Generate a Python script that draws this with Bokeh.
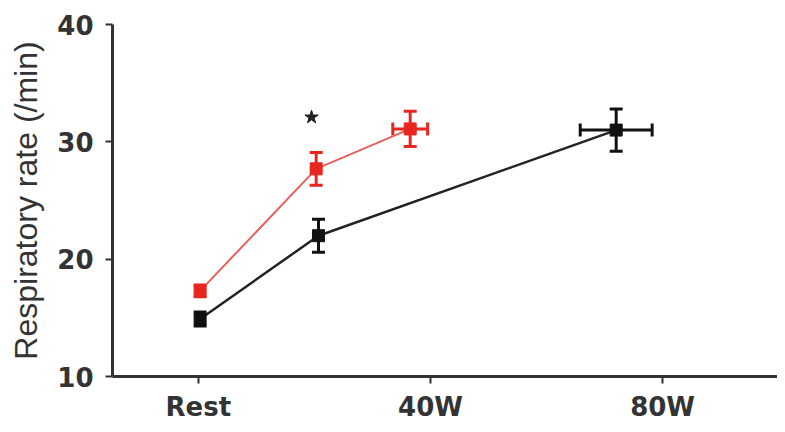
from bokeh.plotting import figure
from bokeh.models import ColumnDataSource, Whisker, FixedTicker, Range1d, TeeHead
from bokeh.embed import file_html
from bokeh.resources import INLINE

# data
tick_watts = [0, 40, 80]
tick_labels = ["Rest", "40W", "80W"]
y_ticks = [10, 20, 30, 40]

red_watts = [0.3, 20.3, 36.5]
red_rate = [17.3, 27.7, 31.1]
red_sem = [0.5, 1.4, 1.5]
red_watts_sem = [0.0, 0.0, 3.0]

black_watts = [0.3, 20.7, 72.0]
black_rate = [14.9, 22.0, 31.0]
black_sem = [0.6, 1.4, 1.8]
black_watts_sem = [0.0, 0.0, 6.2]

star_watts = [19.5]
star_rate = [32.1]

RED = "#e8261f"
RED_LINE = "#e8615c"
BLACK = "#111111"

p = figure(width=777, height=424, output_backend="svg", toolbar_location=None,
           x_range=Range1d(-14.8, 99.8), y_range=Range1d(10, 40),
           min_border_left=112, min_border_right=0, min_border_top=24, min_border_bottom=45)
p.outline_line_color = None
p.grid.visible = False
p.background_fill_color = "white"
p.border_fill_color = "white"

def make_src(x, y, s, xs):
    return ColumnDataSource(dict(
        x=x, y=y,
        lo=[a - b for a, b in zip(y, s)], hi=[a + b for a, b in zip(y, s)],
        xlo=[a - b for a, b in zip(x, xs)], xhi=[a + b for a, b in zip(x, xs)],
    ))

for xs, ys, ss, xss, lc, mc, lw in [
    (black_watts, black_rate, black_sem, black_watts_sem, "#222222", BLACK, 2.5),
    (red_watts, red_rate, red_sem, red_watts_sem, RED_LINE, RED, 2.0),
]:
    src = make_src(xs, ys, ss, xss)
    p.line("x", "y", source=src, line_color=lc, line_width=lw)
    p.add_layout(Whisker(source=src, base="x", lower="lo", upper="hi", dimension="height",
                         line_color=mc, line_width=3,
                         upper_head=TeeHead(size=13, line_color=mc, line_width=3),
                         lower_head=TeeHead(size=13, line_color=mc, line_width=3)))
    p.add_layout(Whisker(source=src, base="y", lower="xlo", upper="xhi", dimension="width",
                         line_color=mc, line_width=3,
                         upper_head=TeeHead(size=13, line_color=mc, line_width=3),
                         lower_head=TeeHead(size=13, line_color=mc, line_width=3)))
    p.scatter("x", "y", source=src, marker="square", size=12, fill_color=mc, line_color=mc)

p.scatter(star_watts, star_rate, marker="star", size=14, fill_color="#222222", line_color="#222222")

for ax in (p.xaxis[0], p.yaxis[0]):
    ax.axis_line_width = 3
    ax.axis_line_color = "#333333"
    ax.major_tick_line_color = "#333333"
    ax.major_tick_line_width = 2
    ax.major_tick_out = 7
    ax.major_tick_in = 0
    ax.minor_tick_line_color = None
    ax.major_label_text_font = "DejaVu Sans"
    ax.major_label_text_font_style = "bold"
    ax.major_label_text_color = "#333333"

p.xaxis.major_label_text_font_size = "26px"
p.yaxis.major_label_text_font_size = "26px"

p.xaxis.ticker = FixedTicker(ticks=tick_watts)
p.xaxis.major_label_overrides = {t: l for t, l in zip(tick_watts, tick_labels)}
p.xaxis.major_label_standoff = 8

p.yaxis.ticker = FixedTicker(ticks=y_ticks)
p.yaxis.major_label_standoff = 12
p.yaxis.axis_label = "Respiratory rate (/min)"
p.yaxis.axis_label_text_font = "Liberation Sans"
p.yaxis.axis_label_text_font_style = "normal"
p.yaxis.axis_label_text_font_size = "32px"
p.yaxis.axis_label_text_color = "#333333"
p.yaxis.axis_label_standoff = 10

open("out.html", "w").write(file_html(p, INLINE))
